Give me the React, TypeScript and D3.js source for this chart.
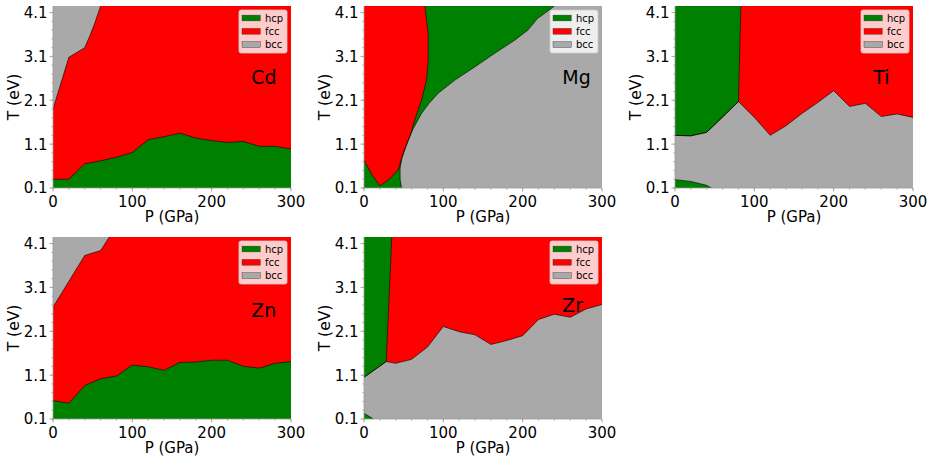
import * as d3 from "d3";

type Pt = [number, number];

const T_MIN = 0.1;
const T_MAX = 4.25;
const P_MAX = 300;

const phaseNames = ["hcp", "fcc", "bcc"];
const phaseColors: Record<string, string> = {
  hcp: "#008000",
  fcc: "#ff0000",
  bcc: "#a9a9a9",
};

const xTicks = [0, 100, 200, 300];
const yTicks = [0.1, 1.1, 2.1, 3.1, 4.1];
const xMinor = d3.range(0, 301, 20);
const yMinor = d3.range(0.1, 4.2, 0.2);

// pressures where the stability boundaries were sampled
const pGrid = [0, 20, 40, 60, 80, 100, 120, 140, 160, 180, 200, 220, 240, 260, 280, 300];

// Cd
const cdHcpTop = [0.3, 0.3, 0.65, 0.72, 0.8, 0.91, 1.2, 1.27, 1.35, 1.24, 1.18, 1.14, 1.16, 1.05, 1.05, 0.99];
const cdBccEdge: Pt[] = [[0, 1.9], [20, 3.08], [40, 3.3], [46, 3.55], [52.5, 3.85], [60, 4.25]];

// Mg
const mgFccEdge: Pt[] = [
  [0, 0.74], [10, 0.4], [20, 0.15], [32, 0.3], [43, 0.51], [48, 0.8], [52, 1.02],
  [57.8, 1.27], [64, 1.65], [72.5, 2.1], [78.9, 2.56], [80.9, 3.02], [80.9, 3.62], [76.7, 4.25],
];
const mgBccEdge: Pt[] = [
  [47.4, 0.1], [45.5, 0.3], [45.5, 0.55], [48, 0.8], [52, 1.0], [56, 1.2], [62, 1.45],
  [72.5, 1.8], [82, 2.03], [93.5, 2.26], [114.5, 2.56], [139.6, 2.86], [164.7, 3.17],
  [190, 3.47], [206.6, 3.7], [219, 3.97], [227.6, 4.08], [240, 4.25],
];

// Ti
const tiBccTop = [1.3, 1.29, 1.37, 1.72, 2.07, 1.71, 1.3, 1.52, 1.8, 2.05, 2.32, 1.96, 2.03, 1.73, 1.79, 1.71];
const tiHcpEdge: Pt[] = [[0, 1.3], [20, 1.29], [40, 1.37], [60, 1.72], [80, 2.07], [83, 4.25]];
const tiHcpLow: Pt[] = [[0, 0.29], [20, 0.25], [40, 0.16], [46, 0.1]];

// Zn
const znHcpTop = [0.52, 0.46, 0.86, 1.02, 1.08, 1.33, 1.29, 1.21, 1.39, 1.4, 1.44, 1.44, 1.3, 1.26, 1.37, 1.41];
const znBccEdge: Pt[] = [[0, 2.65], [20, 3.24], [40, 3.83], [60, 3.94], [71, 4.25]];

// Zr
const zrBccTop: Pt[] = [
  [0, 1.05], [28, 1.41], [40, 1.37], [60, 1.46], [80, 1.74], [100, 2.21], [120, 2.09],
  [140, 2.02], [160, 1.8], [180, 1.89], [200, 2.0], [220, 2.37], [240, 2.49], [260, 2.42],
  [280, 2.61], [300, 2.71],
];
const zrHcpEdge: Pt[] = [[0, 1.05], [28, 1.41], [35, 4.25]];
const zrHcpLow: Pt[] = [[0, 0.23], [12, 0.1]];

interface Region {
  phase: string;
  poly: Pt[];
  edge: Pt[];
}

interface Panel {
  name: string;
  col: number;
  row: number;
  background: string;
  regions: Region[];
  labelT: number;
}

const onGrid = (vals: number[]): Pt[] => pGrid.map((p, i) => [p, vals[i]] as Pt);

// corners pushed a little past the frame so the clip edge stays clean
const LO: Pt = [-5, T_MIN - 0.2];
const HI_T = T_MAX + 0.2;
const HI_P = P_MAX + 5;

const panels: Panel[] = [
  {
    name: "Cd", col: 0, row: 0, background: "fcc", labelT: 2.47,
    regions: [
      { phase: "hcp", poly: [LO, [-5, cdHcpTop[0]], ...onGrid(cdHcpTop), [HI_P, cdHcpTop[15]], [HI_P, LO[1]]], edge: onGrid(cdHcpTop) },
      { phase: "bcc", poly: [[-5, HI_T], [-5, cdBccEdge[0][1]], ...cdBccEdge, [60, HI_T]], edge: cdBccEdge },
    ],
  },
  {
    name: "Mg", col: 1, row: 0, background: "hcp", labelT: 2.47,
    regions: [
      { phase: "fcc", poly: [[-5, HI_T], [-5, 0.74], ...mgFccEdge, [76.7, HI_T]], edge: mgFccEdge },
      { phase: "bcc", poly: [[47.4, LO[1]], ...mgBccEdge, [240, HI_T], [HI_P, HI_T], [HI_P, LO[1]]], edge: mgBccEdge },
    ],
  },
  {
    name: "Ti", col: 2, row: 0, background: "fcc", labelT: 2.47,
    regions: [
      { phase: "bcc", poly: [LO, [-5, tiBccTop[0]], ...onGrid(tiBccTop), [HI_P, tiBccTop[15]], [HI_P, LO[1]]], edge: onGrid(tiBccTop) },
      { phase: "hcp", poly: [[-5, HI_T], [-5, 1.3], ...tiHcpEdge, [83, HI_T]], edge: tiHcpEdge },
      { phase: "hcp", poly: [LO, [-5, 0.29], ...tiHcpLow, [46, LO[1]]], edge: tiHcpLow },
    ],
  },
  {
    name: "Zn", col: 0, row: 1, background: "fcc", labelT: 2.42,
    regions: [
      { phase: "hcp", poly: [LO, [-5, znHcpTop[0]], ...onGrid(znHcpTop), [HI_P, znHcpTop[15]], [HI_P, LO[1]]], edge: onGrid(znHcpTop) },
      { phase: "bcc", poly: [[-5, HI_T], [-5, znBccEdge[0][1]], ...znBccEdge, [71, HI_T]], edge: znBccEdge },
    ],
  },
  {
    name: "Zr", col: 1, row: 1, background: "fcc", labelT: 2.55,
    regions: [
      { phase: "bcc", poly: [LO, [-5, 1.05], ...zrBccTop, [HI_P, 2.71], [HI_P, LO[1]]], edge: zrBccTop },
      { phase: "hcp", poly: [[-5, HI_T], [-5, 1.05], ...zrHcpEdge, [35, HI_T]], edge: zrHcpEdge },
      { phase: "hcp", poly: [LO, [-5, 0.23], ...zrHcpLow, [12, LO[1]]], edge: zrHcpLow },
    ],
  },
];

const colLefts = [53, 364, 675];
const rowTops = [6, 237];
const plotW = 238;
const plotH = 182;
const FONT = "DejaVu Sans, sans-serif";

function PhasePanel({ panel }: { panel: Panel }) {
  const left = colLefts[panel.col];
  const top = rowTops[panel.row];
  const x = d3.scaleLinear().domain([0, P_MAX]).range([0, plotW]);
  const y = d3.scaleLinear().domain([T_MIN, T_MAX]).range([plotH, 0]);
  const line = d3.line<Pt>().x((d) => x(d[0])).y((d) => y(d[1]));
  const clipId = `clip-${panel.name}`;

  return (
    <g transform={`translate(${left},${top})`}>
      <defs>
        <clipPath id={clipId}>
          <rect x={0} y={0} width={plotW} height={plotH} />
        </clipPath>
      </defs>
      <g clipPath={`url(#${clipId})`}>
        <rect x={0} y={0} width={plotW} height={plotH} fill={phaseColors[panel.background]} />
        {panel.regions.map((r, i) => (
          <path key={`f${i}`} d={line(r.poly) + "Z"} fill={phaseColors[r.phase]} />
        ))}
        {panel.regions.map((r, i) => (
          <path key={`e${i}`} d={line(r.edge)!} fill="none" stroke="#000" strokeWidth={0.6} />
        ))}
      </g>

      {/* spines and ticks */}
      <line x1={0} x2={0} y1={0} y2={plotH} stroke="#999" strokeWidth={0.8} />
      <line x1={0} x2={plotW} y1={plotH} y2={plotH} stroke="#999" strokeWidth={0.8} />
      {xMinor.map((p) => (
        <line key={`xm${p}`} x1={x(p)} x2={x(p)} y1={plotH} y2={plotH + 2} stroke="#999" strokeWidth={0.6} />
      ))}
      {yMinor.map((t) => (
        <line key={`ym${t.toFixed(1)}`} x1={0} x2={-2} y1={y(t)} y2={y(t)} stroke="#999" strokeWidth={0.6} />
      ))}
      {xTicks.map((p) => (
        <g key={`xt${p}`}>
          <line x1={x(p)} x2={x(p)} y1={plotH} y2={plotH + 3.5} stroke="#999" strokeWidth={0.8} />
          <text x={x(p)} y={plotH + 18.5} textAnchor="middle" fontSize={15} fontFamily={FONT}>
            {p}
          </text>
        </g>
      ))}
      {yTicks.map((t) => (
        <g key={`yt${t}`}>
          <line x1={0} x2={-3.5} y1={y(t)} y2={y(t)} stroke="#999" strokeWidth={0.8} />
          <text x={-5.5} y={y(t)} dy="0.36em" textAnchor="end" fontSize={15} fontFamily={FONT}>
            {t.toFixed(1)}
          </text>
        </g>
      ))}
      <text x={plotW / 2} y={plotH + 33.5} textAnchor="middle" fontSize={15} fontFamily={FONT}>
        P (GPa)
      </text>
      <text
        transform={`translate(${-39},${plotH / 2}) rotate(-90)`}
        textAnchor="middle"
        dominantBaseline="central"
        fontSize={15.5}
        fontFamily={FONT}
      >
        T (eV)
      </text>

      <text x={x(250)} y={y(panel.labelT)} fontSize={19} fontFamily={FONT}>
        {panel.name}
      </text>

      {/* legend */}
      <g transform={`translate(${plotW - 52},4)`}>
        <rect x={0} y={0} width={48} height={43} rx={2} fill="#fff" fillOpacity={0.8} stroke="#ccc" strokeWidth={0.8} />
        {phaseNames.map((ph, i) => (
          <g key={ph} transform={`translate(0,${8 + i * 13.3})`}>
            <rect x={3} y={-2.9} width={18.3} height={5.8} fill={phaseColors[ph]} stroke="#333" strokeWidth={0.4} />
            <text x={26} y={0} dy="0.35em" fontSize={10} fontFamily={FONT}>
              {ph}
            </text>
          </g>
        ))}
      </g>
    </g>
  );
}

export default function App() {
  return (
    <div style={{ position: "absolute", left: 0, top: 0 }}>
      <svg width={934} height={462} style={{ display: "block", background: "#fff" }}>
        {panels.map((p) => (
          <PhasePanel key={p.name} panel={p} />
        ))}
      </svg>
    </div>
  );
}
